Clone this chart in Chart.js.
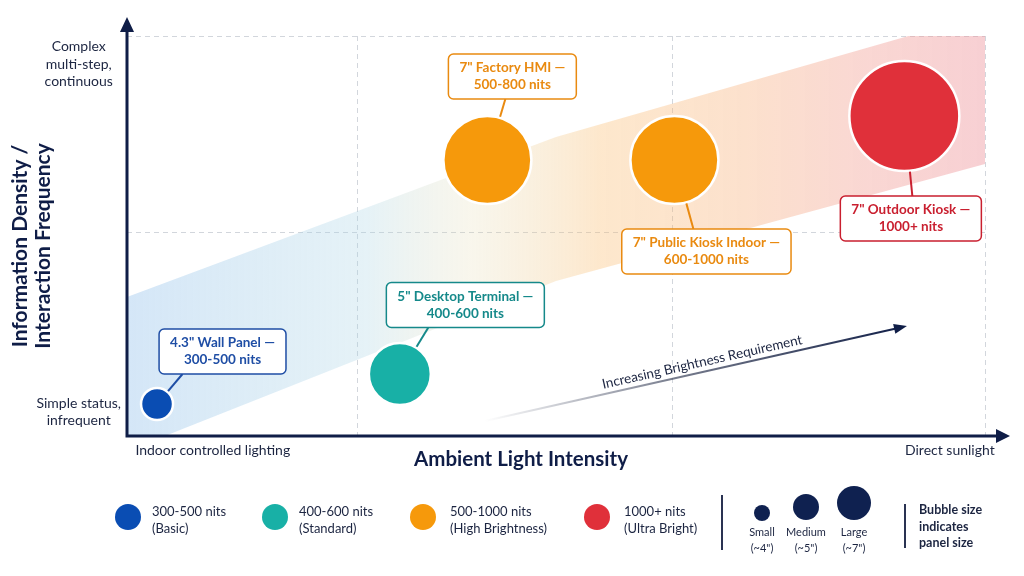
<!DOCTYPE html>
<html><head><meta charset="utf-8">
<script src="https://cdn.jsdelivr.net/npm/chart.js@4.4.1/dist/chart.umd.min.js"></script>
<style>
html,body{margin:0;padding:0;background:#fff;width:1024px;height:576px;overflow:hidden;font-family:Lato,"Open Sans",sans-serif;color:#1c2541}
#wrap{position:relative;width:1024px;height:576px}
#c{position:absolute;left:0;top:0}
.lt{position:absolute;font-size:13px;line-height:17px;color:#1c2541;white-space:nowrap}
.ls{position:absolute;font-size:11px;line-height:16px;color:#1c2541;white-space:nowrap;text-align:center;width:60px}
.dot{position:absolute;border-radius:50%}
.div{position:absolute;width:1.5px;background:#2a3352}
.note{position:absolute;font-size:12.5px;line-height:16.5px;font-weight:bold;color:#1c2541;white-space:nowrap}
</style></head><body>
<div id="wrap"><canvas id="c" width="1024" height="576"></canvas><div id="legend"></div></div>
<script>
// ---- data ----
const devices = ['4.3" Wall Panel', '5" Desktop Terminal', '7" Factory HMI', '7" Public Kiosk Indoor', '7" Outdoor Kiosk'];
const nitRanges = ['300-500 nits', '400-600 nits', '500-800 nits', '600-1000 nits', '1000+ nits'];
const ambientLight = [3.5, 31.8, 42.0, 63.8, 90.6];
const interaction = [8, 15.5, 69, 69, 80];
const bubbleSize = [16, 31, 44, 44, 55];
const tierIndex = [0, 1, 2, 2, 3];

const tierLabels = ['300-500 nits', '400-600 nits', '500-1000 nits', '1000+ nits'];
const tierNames = ['(Basic)', '(Standard)', '(High Brightness)', '(Ultra Bright)'];
const sizeLabels = ['Small', 'Medium', 'Large'];
const sizeNotes = ['(~4")', '(~5")', '(~7")'];
const sizeNote = ['Bubble size', 'indicates', 'panel size'];

const xTickLabels = ['Indoor controlled lighting', 'Direct sunlight'];
const xTickValues = [10, 95.9];
const xGridValues = [26.9, 63.6, 100];
const yTickLabels = [['Simple status,', 'infrequent'], ['Complex', 'multi-step,', 'continuous']];
const yTickValues = [6, 92.9];
const yGridValues = [51, 100];
const xTitle = 'Ambient Light Intensity';
const yTitle = ['Information Density /', 'Interaction Frequency'];

const bandX = [0, 50, 100];
const bandUpper = [34.75, 74.75, 105.5];
const bandLower = [-3.75, 38.75, 68];
const trendFrom = [41.7, 3.75];
const trendTo = [90.9, 27.5];
const trendLabel = 'Increasing Brightness Requirement';

// ---- styles / layout ----
const tierColors = ['#0a4db3', '#18b0a6', '#f6990b', '#e0303a'];
const calloutColors = ['#1f4ea5', '#15898a', '#e98a10', '#e98a10', '#c91f2f'];
const calloutLayout = [
  {dx: 65.5, dy: -52.5, ax: -40},
  {dx: 65.5, dy: -69, ax: -37},
  {dx: 25, dy: -83.5, ax: -7},
  {dx: 32, dy: 91.5, ax: -13},
  {dx: 6.5, dy: 102.5, ax: 1.5}
];
const axisColor = '#0f1d47';
const textColor = '#1c2541';
const FONT = 'Lato, "Open Sans", sans-serif';

function bandGradient(ctx) {
  const ch = ctx.chart, a = ch.chartArea;
  if (!a) return 'rgba(0,0,0,0)';
  const g = ch.ctx.createLinearGradient(a.left, 0, a.right, 0);
  g.addColorStop(0, 'rgba(160,200,238,0.45)');
  g.addColorStop(0.28, 'rgba(170,212,228,0.30)');
  g.addColorStop(0.4, 'rgba(225,215,170,0.22)');
  g.addColorStop(0.55, 'rgba(250,190,115,0.36)');
  g.addColorStop(0.72, 'rgba(248,180,130,0.40)');
  g.addColorStop(0.86, 'rgba(242,160,150,0.42)');
  g.addColorStop(1, 'rgba(238,150,158,0.45)');
  return g;
}

function roundRect(ctx, x, y, w, h, r) {
  ctx.beginPath();
  ctx.moveTo(x + r, y);
  ctx.arcTo(x + w, y, x + w, y + h, r);
  ctx.arcTo(x + w, y + h, x, y + h, r);
  ctx.arcTo(x, y + h, x, y, r);
  ctx.arcTo(x, y, x + w, y, r);
  ctx.closePath();
}

const decor = {
  id: 'decor',
  afterDatasetsDraw(chart) {
    const {ctx, chartArea: a, scales: {x, y}} = chart;
    // trend arrow
    const x0 = x.getPixelForValue(trendFrom[0]), y0 = y.getPixelForValue(trendFrom[1]);
    const x1 = x.getPixelForValue(trendTo[0]), y1 = y.getPixelForValue(trendTo[1]);
    const ang = Math.atan2(y1 - y0, x1 - x0);
    ctx.save();
    const g = ctx.createLinearGradient(x0, y0, x1, y1);
    g.addColorStop(0, 'rgba(28,37,65,0)');
    g.addColorStop(0.45, 'rgba(28,37,65,0.6)');
    g.addColorStop(1, 'rgba(15,29,71,1)');
    ctx.strokeStyle = g; ctx.lineWidth = 2;
    ctx.beginPath(); ctx.moveTo(x0, y0);
    ctx.lineTo(x1 - 10 * Math.cos(ang), y1 - 10 * Math.sin(ang)); ctx.stroke();
    ctx.fillStyle = axisColor;
    ctx.translate(x1, y1); ctx.rotate(ang);
    ctx.beginPath(); ctx.moveTo(0, 0); ctx.lineTo(-13, -5); ctx.lineTo(-13, 5); ctx.closePath(); ctx.fill();
    ctx.restore();
    ctx.save();
    const t = 0.52;
    ctx.translate(x0 + (x1 - x0) * t, y0 + (y1 - y0) * t);
    ctx.rotate(ang);
    ctx.font = '13.5px ' + FONT; ctx.fillStyle = textColor;
    ctx.textAlign = 'center'; ctx.textBaseline = 'bottom';
    ctx.fillText(trendLabel, 0, -3);
    ctx.restore();

    // axes with arrows
    ctx.save();
    ctx.strokeStyle = axisColor; ctx.fillStyle = axisColor; ctx.lineWidth = 3;
    ctx.beginPath();
    ctx.moveTo(a.left, a.top - 6); ctx.lineTo(a.left, a.bottom); ctx.lineTo(a.right + 14, a.bottom);
    ctx.stroke();
    ctx.beginPath(); ctx.moveTo(a.left, a.top - 19); ctx.lineTo(a.left - 7, a.top - 4); ctx.lineTo(a.left + 7, a.top - 4); ctx.closePath(); ctx.fill();
    ctx.beginPath(); ctx.moveTo(a.right + 25, a.bottom); ctx.lineTo(a.right + 11, a.bottom - 7); ctx.lineTo(a.right + 11, a.bottom + 7); ctx.closePath(); ctx.fill();
    ctx.restore();

    // callouts
    const meta = chart.getDatasetMeta(2);
    meta.data.forEach((el, i) => {
      const L = calloutLayout[i], col = calloutColors[i];
      const lines = [devices[i] + ' \u2014', nitRanges[i]];
      ctx.save();
      ctx.font = 'bold 13.5px ' + FONT;
      const tw = Math.max(...lines.map(s => ctx.measureText(s).width));
      const w = tw + 22, h = 45;
      const cx = el.x + L.dx, cy = el.y + L.dy;
      const axp = cx + L.ax, ayp = L.dy < 0 ? cy + h / 2 : cy - h / 2;
      const dx = axp - el.x, dy = ayp - el.y, d = Math.hypot(dx, dy);
      const r0 = bubbleSize[i] + 1;
      ctx.strokeStyle = col; ctx.lineWidth = 2;
      ctx.beginPath(); ctx.moveTo(el.x + dx * r0 / d, el.y + dy * r0 / d); ctx.lineTo(axp, ayp); ctx.stroke();
      roundRect(ctx, cx - w / 2, cy - h / 2, w, h, 5);
      ctx.fillStyle = '#fff'; ctx.fill();
      ctx.lineWidth = 1.5; ctx.stroke();
      ctx.fillStyle = col; ctx.textAlign = 'center'; ctx.textBaseline = 'middle';
      ctx.fillText(lines[0], cx, cy - 8.5);
      ctx.fillText(lines[1], cx, cy + 8.5);
      ctx.restore();
    });
  },
  afterDraw(chart) {
    const {ctx} = chart;
    ctx.save();
    ctx.fillStyle = axisColor;
    ctx.font = 'bold 20.5px ' + FONT;
    ctx.textAlign = 'center'; ctx.textBaseline = 'middle';
    ctx.fillText(xTitle, 521, 459);
    ctx.translate(0, 246); ctx.rotate(-Math.PI / 2);
    ctx.font = 'bold 21px ' + FONT;
    ctx.fillText(yTitle[0], 0, 20);
    ctx.fillText(yTitle[1], 0, 43);
    ctx.restore();
  }
};

const lineBase = {type: 'line', pointRadius: 0, borderWidth: 0, tension: 0, borderColor: 'rgba(0,0,0,0)'};

new Chart(document.getElementById('c'), {
  type: 'bubble',
  data: {
    datasets: [
      Object.assign({}, lineBase, {label: 'band-upper', data: bandX.map((v, i) => ({x: v, y: bandUpper[i]})), fill: '+1', backgroundColor: bandGradient, order: 10}),
      Object.assign({}, lineBase, {label: 'band-lower', data: bandX.map((v, i) => ({x: v, y: bandLower[i]})), fill: false, order: 11}),
      {
        label: 'Displays',
        data: ambientLight.map((v, i) => ({x: v, y: interaction[i], r: bubbleSize[i]})),
        backgroundColor: tierIndex.map(t => tierColors[t]),
        borderColor: '#ffffff', borderWidth: 2.5, order: 0
      }
    ]
  },
  options: {
    responsive: false, animation: false, events: [],
    layout: {autoPadding: false, padding: {top: 36, right: 39, left: 0, bottom: 0}},
    plugins: {legend: {display: false}, tooltip: {enabled: false}},
    scales: {
      x: {
        type: 'linear', min: 0, max: 100,
        afterBuildTicks: s => { s.ticks = [...xTickValues, ...xGridValues].sort((p, q) => p - q).map(v => ({value: v})); },
        afterFit: s => { s.height = 140; },
        ticks: {autoSkip: false, maxRotation: 0, padding: 6, color: textColor, font: {family: FONT, size: 14},
          callback: v => { const i = xTickValues.indexOf(v); return i >= 0 ? xTickLabels[i] : ''; }},
        grid: {drawTicks: false, lineWidth: 1, color: c => xGridValues.includes(c.tick && c.tick.value) ? '#d2d6dc' : 'rgba(0,0,0,0)'},
        border: {display: false, dash: [5, 4]}
      },
      y: {
        type: 'linear', min: 0, max: 100,
        afterBuildTicks: s => { s.ticks = [...yTickValues, ...yGridValues].sort((p, q) => p - q).map(v => ({value: v})); },
        afterFit: s => { s.width = 127; },
        ticks: {autoSkip: false, padding: 6, crossAlign: 'center', color: textColor, font: {family: FONT, size: 14, lineHeight: 1.25},
          callback: v => { const i = yTickValues.indexOf(v); return i >= 0 ? yTickLabels[i] : ''; }},
        grid: {drawTicks: false, lineWidth: 1, color: c => yGridValues.includes(c.tick && c.tick.value) ? '#d2d6dc' : 'rgba(0,0,0,0)'},
        border: {display: false, dash: [5, 4]}
      }
    }
  },
  plugins: [decor]
});

// ---- HTML legend ----
const lg = document.getElementById('legend');
const tierPos = [{cx: 128, tx: 152}, {cx: 275, tx: 299}, {cx: 423, tx: 450}, {cx: 597, tx: 624}];
tierLabels.forEach((lab, i) => {
  const d = document.createElement('div'); d.className = 'dot';
  Object.assign(d.style, {left: (tierPos[i].cx - 13) + 'px', top: (517 - 13) + 'px', width: '26px', height: '26px', background: tierColors[i]});
  lg.appendChild(d);
  const t = document.createElement('div'); t.className = 'lt';
  t.style.left = tierPos[i].tx + 'px'; t.style.top = '503px';
  t.innerHTML = lab + '<br>' + tierNames[i];
  lg.appendChild(t);
});
[721, 904].forEach((xx, i) => {
  const d = document.createElement('div'); d.className = 'div';
  d.style.left = xx + 'px'; d.style.top = (i ? 504 : 495) + 'px'; d.style.height = (i ? 44 : 55) + 'px';
  lg.appendChild(d);
});
const sizePos = [{cx: 762, cy: 513, r: 8}, {cx: 806, cy: 507, r: 13}, {cx: 854, cy: 503, r: 17}];
sizeLabels.forEach((lab, i) => {
  const p = sizePos[i];
  const d = document.createElement('div'); d.className = 'dot';
  Object.assign(d.style, {left: (p.cx - p.r) + 'px', top: (p.cy - p.r) + 'px', width: 2 * p.r + 'px', height: 2 * p.r + 'px', background: '#0f2150'});
  lg.appendChild(d);
  const t = document.createElement('div'); t.className = 'ls';
  t.style.left = (p.cx - 30) + 'px'; t.style.top = '524px';
  t.innerHTML = lab + '<br>' + sizeNotes[i];
  lg.appendChild(t);
});
const nt = document.createElement('div'); nt.className = 'note';
nt.style.left = '919px'; nt.style.top = '502px';
nt.innerHTML = sizeNote.join('<br>');
lg.appendChild(nt);
</script>
</body></html>
